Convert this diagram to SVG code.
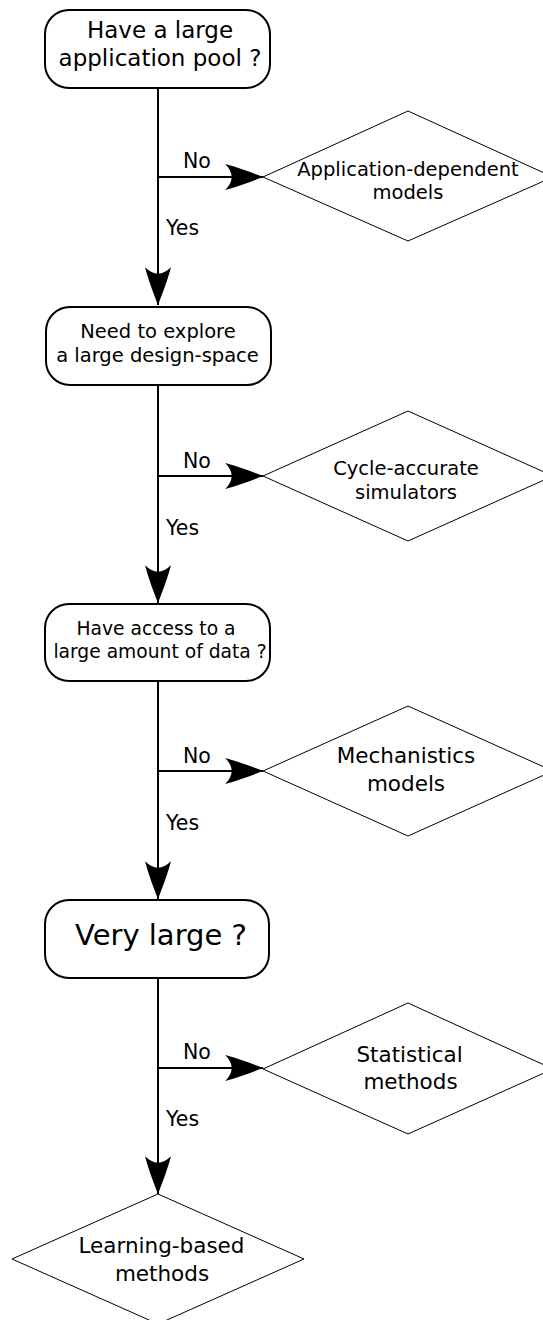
<svg xmlns="http://www.w3.org/2000/svg" width="543" height="1320" viewBox="0 0 543 1320">
<style>
  .box{fill:#fff;stroke:#000;stroke-width:2}
  .dia{fill:#fff;stroke:#000;stroke-width:1}
  .ln{fill:none;stroke:#000;stroke-width:2}
  text{font-family:"DejaVu Sans",sans-serif;fill:#000;text-anchor:middle}
  .lbl{font-size:20.5px;text-anchor:start}
</style>
<defs>
  <marker id="arr" markerUnits="userSpaceOnUse" markerWidth="40" markerHeight="30" refX="0" refY="0" viewBox="-36 -13 37 26" orient="auto">
    <path d="M0,0 C-8,-3 -20,-8 -35,-12 C-27,-4 -27,4 -35,12 C-20,8 -8,3 0,0 Z" fill="#000"/>
  </marker>
</defs>
<g id="connectors">
  <path class="ln" d="M158,88 V305" marker-end="url(#arr)"/>
  <path class="ln" d="M158,177 H263" marker-end="url(#arr)"/>
  <path class="ln" d="M158,385 V603" marker-end="url(#arr)"/>
  <path class="ln" d="M158,476 H263" marker-end="url(#arr)"/>
  <path class="ln" d="M158,681 V899" marker-end="url(#arr)"/>
  <path class="ln" d="M158,771 H263" marker-end="url(#arr)"/>
  <path class="ln" d="M158,978 V1194" marker-end="url(#arr)"/>
  <path class="ln" d="M158,1068 H263" marker-end="url(#arr)"/>
  <text class="lbl" x="183" y="168">No</text>
  <text class="lbl" x="166" y="235">Yes</text>
  <text class="lbl" x="183" y="468">No</text>
  <text class="lbl" x="166" y="535">Yes</text>
  <text class="lbl" x="183" y="763">No</text>
  <text class="lbl" x="166" y="830">Yes</text>
  <text class="lbl" x="183" y="1059">No</text>
  <text class="lbl" x="166" y="1126">Yes</text>
</g>
<g id="q1">
  <rect class="box" x="45" y="10" width="225" height="78" rx="24"/>
  <text x="160" y="38" font-size="23">Have a large</text>
  <text x="160" y="66" font-size="23">application pool ?</text>
</g>
<g id="r1">
  <polygon class="dia" points="263,177 408,111 553,177 408,241"/>
  <text x="408" y="176" font-size="19.5">Application-dependent</text>
  <text x="408" y="199" font-size="19.5">models</text>
</g>
<g id="q2">
  <rect class="box" x="46" y="307" width="225" height="78" rx="24"/>
  <text x="158" y="338" font-size="19.5">Need to explore</text>
  <text x="157.5" y="362" font-size="19.5">a large design-space</text>
</g>
<g id="r2">
  <polygon class="dia" points="263,476 408,411 553,476 408,541"/>
  <text x="406" y="475" font-size="19.5">Cycle-accurate</text>
  <text x="406" y="499" font-size="19.5">simulators</text>
</g>
<g id="q3">
  <rect class="box" x="45" y="604" width="225" height="77" rx="24"/>
  <text x="156" y="635" font-size="18.7">Have access to a</text>
  <text x="160" y="658" font-size="18.7">large amount of data ?</text>
</g>
<g id="r3">
  <polygon class="dia" points="263,771 408,706 553,771 408,836"/>
  <text x="406" y="763" font-size="21.5">Mechanistics</text>
  <text x="406" y="791" font-size="21.5">models</text>
</g>
<g id="q4">
  <rect class="box" x="45" y="900" width="224" height="78" rx="24"/>
  <text x="161" y="945" font-size="29">Very large ?</text>
</g>
<g id="r4">
  <polygon class="dia" points="263,1069 408,1003 553,1069 408,1134"/>
  <text x="409.5" y="1062" font-size="21.5">Statistical</text>
  <text x="410.5" y="1089" font-size="21.5">methods</text>
</g>
<g id="r5">
  <polygon class="dia" points="158,1194 304,1259 158,1324 12,1259"/>
  <text x="161.5" y="1253" font-size="21.5">Learning-based</text>
  <text x="162" y="1281" font-size="21.5">methods</text>
</g>
</svg>
